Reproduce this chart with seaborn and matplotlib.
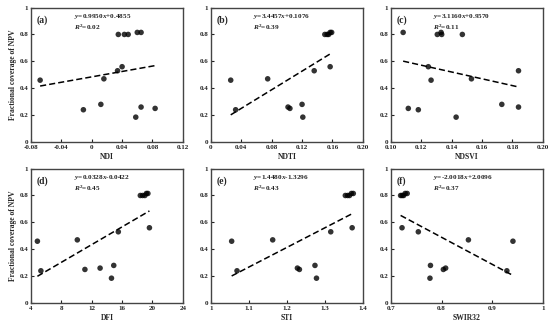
import numpy as np
import pandas as pd
import matplotlib.pyplot as plt
import seaborn as sns

# fractional coverage of NPV (shared y for every panel)
npv = [0.46, 0.24, 0.47, 0.26, 0.25, 0.28, 0.185, 0.53, 0.56, 0.80, 0.80, 0.80, 0.815, 0.815]

ndi = [-0.068, -0.011, 0.016, 0.065, 0.0835, 0.012, 0.058, 0.034, 0.040, 0.035, 0.043, 0.048, 0.060, 0.065]
ndti = [0.026, 0.0325, 0.0747, 0.1015, 0.104, 0.120, 0.121, 0.136, 0.157, 0.150, 0.153, 0.155, 0.157, 0.159]
ndsvi = [0.1264, 0.118, 0.153, 0.184, 0.1114, 0.173, 0.1429, 0.184, 0.1246, 0.1305, 0.1334, 0.147, 0.133, 0.108]
dfi = [4.84, 5.3, 10.1, 13.1, 11.1, 14.9, 14.6, 15.5, 19.6, 18.4, 18.7, 19.0, 19.2, 19.4]
sti = [1.0545, 1.0686, 1.1626, 1.2277, 1.233, 1.274, 1.278, 1.3156, 1.372, 1.354, 1.36, 1.365, 1.37, 1.375]
swir32 = [0.941, 0.929, 0.853, 0.808, 0.8035, 0.778, 0.777, 0.754, 0.7218, 0.719, 0.722, 0.725, 0.728, 0.732]

labels = ["(a)", "(b)", "(c)", "(d)", "(e)", "(f)"]
xnames = ["NDI", "NDTI", "NDSVI", "DFI", "STI", "SWIR32"]
equations = ["0.9950$\\mathit{x}$+0.4855", "3.4457$\\mathit{x}$+0.1076", "3.1160$\\mathit{x}$+0.9570",
             "0.0328$\\mathit{x}$-0.0422", "1.4480$\\mathit{x}$-1.3296", "-2.0018$\\mathit{x}$+2.0096"]
r2 = ["0.02", "0.39", "0.11", "0.45", "0.43", "0.37"]
xticks = [[-0.08, -0.04, 0, 0.04, 0.08, 0.12],
          [0, 0.04, 0.08, 0.12, 0.16, 0.20],
          [0.10, 0.12, 0.14, 0.16, 0.18, 0.20],
          [4, 8, 12, 16, 20, 24],
          [1, 1.1, 1.2, 1.3, 1.4],
          [0.7, 0.8, 0.9, 1]]
xticklabels = [["-0.08", "-0.04", "0", "0.04", "0.08", "0.12"],
               ["0", "0.04", "0.08", "0.12", "0.16", "0.20"],
               ["0.10", "0.12", "0.14", "0.16", "0.18", "0.20"],
               ["4", "8", "12", "16", "20", "24"],
               ["1", "1.1", "1.2", "1.3", "1.4"],
               ["0.7", "0.8", "0.9", "1"]]
yticks = [0, 0.2, 0.4, 0.6, 0.8, 1]
yticklabels = ["0", "0.2", "0.4", "0.6", "0.8", "1"]

sns.set_style("ticks")
plt.rcParams['font.family'] = ['Liberation Serif', 'DejaVu Serif']
plt.rcParams['font.weight'] = 'bold'
plt.rcParams['mathtext.fontset'] = 'custom'
plt.rcParams['mathtext.rm'] = 'Liberation Serif:bold'
plt.rcParams['mathtext.it'] = 'Liberation Serif:italic:bold'
plt.rcParams['mathtext.bf'] = 'Liberation Serif:bold'

fig = plt.figure(figsize=(5.5, 3.28), dpi=100)
lefts = [0.0564, 0.3836, 0.7109]
bottoms = [0.567, 0.076]
w, h = 0.276, 0.41

data = [ndi, ndti, ndsvi, dfi, sti, swir32]
for i, xs in enumerate(data):
    ax = fig.add_axes([lefts[i % 3], bottoms[i // 3], w, h])
    df = pd.DataFrame({"x": xs, "y": npv})
    sns.regplot(data=df, x="x", y="y", ax=ax, ci=None,
                scatter_kws=dict(s=16, color="black", edgecolor="none"),
                line_kws=dict(color="black", linestyle=(0, (4, 2)), linewidth=1.1))
    ax.set_xlim(xticks[i][0], xticks[i][-1])
    ax.set_ylim(0, 1)
    ax.set_xticks(xticks[i])
    ax.set_xticklabels(xticklabels[i])
    ax.set_yticks(yticks)
    ax.set_yticklabels(yticklabels)
    ax.tick_params(direction="in", length=2.5, width=0.8, labelsize=5, pad=2, colors="#222222")
    for sp in ax.spines.values():
        sp.set_linewidth(1.0)
        sp.set_color("#444444")
    ax.set_xlabel(xnames[i], fontsize=5.5, fontweight="bold", labelpad=2)
    if i % 3 == 0:
        ax.set_ylabel("Fractional coverage of NPV", fontsize=5.5, fontweight="bold", labelpad=2)
    else:
        ax.set_ylabel("")
    ax.text(0.04, 0.94, labels[i], transform=ax.transAxes, fontsize=7, fontweight="bold", va="top")
    ax.text(0.28, 0.965, "$\\mathit{y}$=" + equations[i], transform=ax.transAxes,
            fontsize=5.2, va="top")
    ax.text(0.28, 0.885, "$\\mathit{R}^2$=" + r2[i], transform=ax.transAxes,
            fontsize=5.2, va="top")

plt.savefig("out.png", dpi=100)
